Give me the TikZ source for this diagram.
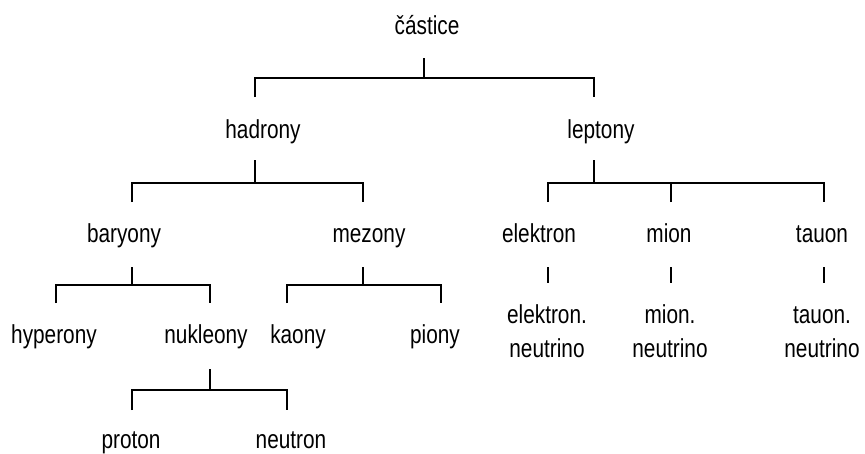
\documentclass[tikz,border=0pt]{standalone}
\usepackage{fontspec}
\setmainfont{Liberation Sans}[FakeStretch=0.8]
\begin{document}
\begin{tikzpicture}[x=1pt,y=-1pt,
  lbl/.style={inner sep=0pt,anchor=base,font=\fontsize{26}{34}\selectfont,text=black},
  conn/.style={draw=black,line width=1.3pt}]
\useasboundingbox (0,0) rectangle (865,453);

% labels, placed at their baselines (two-line labels at their last line)
\node[lbl] (castice)   at (427,34)  {částice};
\node[lbl] (hadrony)   at (263,138) {hadrony};
\node[lbl] (leptony)   at (601,138) {leptony};
\node[lbl] (baryony)   at (124,242) {baryony};
\node[lbl] (mezony)    at (369,242) {mezony};
\node[lbl] (elektron)  at (539,242) {elektron};
\node[lbl] (mion)      at (669,242) {mion};
\node[lbl] (tauon)     at (822,242) {tauon};
\node[lbl] (hyperony)  at (54,343)  {hyperony};
\node[lbl] (nukleony)  at (206,343) {nukleony};
\node[lbl] (kaony)     at (298,343) {kaony};
\node[lbl] (piony)     at (435,343) {piony};
\node[lbl,align=center] (eneutrino) at (547,357) {elektron.\\neutrino};
\node[lbl,align=center] (mneutrino) at (670,357) {mion.\\neutrino};
\node[lbl,align=center] (tneutrino) at (822,357) {tauon.\\neutrino};
\node[lbl] (proton)    at (131,448) {proton};
\node[lbl] (neutron)   at (291,448) {neutron};

% connector ends: stems leaving a parent (-o), drops reaching a child (-i)
\coordinate (castice-o)  at (424,58);
\coordinate (hadrony-i)  at (255,97);
\coordinate (leptony-i)  at (594,97);
\coordinate (hadrony-o)  at (255,160);
\coordinate (leptony-o)  at (594,160);
\coordinate (baryony-i)  at (132,202);
\coordinate (mezony-i)   at (363,202);
\coordinate (elektron-i) at (548,202);
\coordinate (mion-i)     at (671,202);
\coordinate (tauon-i)    at (824,202);
\coordinate (baryony-o)  at (132,267);
\coordinate (mezony-o)   at (363,267);
\coordinate (elektron-o) at (548,267);
\coordinate (mion-o)     at (671,267);
\coordinate (tauon-o)    at (824,267);
\coordinate (hyperony-i) at (56,303);
\coordinate (nukleony-i) at (210,303);
\coordinate (kaony-i)    at (287,303);
\coordinate (piony-i)    at (441,303);
\coordinate (eneutrino-i) at (548,283);
\coordinate (mneutrino-i) at (671,283);
\coordinate (tneutrino-i) at (824,283);
\coordinate (nukleony-o) at (210,369);
\coordinate (proton-i)   at (132,410);
\coordinate (neutron-i)  at (287,410);

% částice -> hadrony, leptony
\draw[conn] (castice-o) -- ++(0,20) coordinate (castice-j);
\draw[conn] (hadrony-i) |- (castice-j) -| (leptony-i);

% hadrony -> baryony, mezony
\draw[conn] (hadrony-o) -- ++(0,23) coordinate (hadrony-j);
\draw[conn] (baryony-i) |- (hadrony-j) -| (mezony-i);

% leptony -> elektron, mion, tauon
\draw[conn] (leptony-o) -- ++(0,23) coordinate (leptony-j);
\draw[conn] (elektron-i) |- (leptony-j) -| (tauon-i);
\draw[conn] (mion-i) -- (mion-i |- leptony-j);

% baryony -> hyperony, nukleony
\draw[conn] (baryony-o) -- ++(0,18) coordinate (baryony-j);
\draw[conn] (hyperony-i) |- (baryony-j) -| (nukleony-i);

% mezony -> kaony, piony
\draw[conn] (mezony-o) -- ++(0,18) coordinate (mezony-j);
\draw[conn] (kaony-i) |- (mezony-j) -| (piony-i);

% leptons -> their neutrinos
\draw[conn] (elektron-o) -- (eneutrino-i);
\draw[conn] (mion-o) -- (mneutrino-i);
\draw[conn] (tauon-o) -- (tneutrino-i);

% nukleony -> proton, neutron
\draw[conn] (nukleony-o) -- ++(0,21) coordinate (nukleony-j);
\draw[conn] (proton-i) |- (nukleony-j) -| (neutron-i);
\end{tikzpicture}
\end{document}
